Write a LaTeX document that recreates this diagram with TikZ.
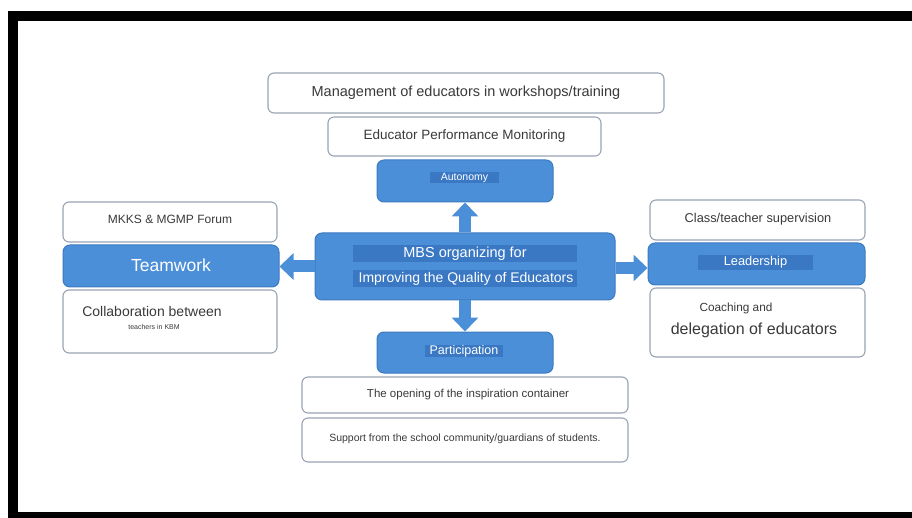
\documentclass[tikz,border=0pt]{standalone}
\usepackage{fontspec}
\setmainfont{Liberation Sans}
\usetikzlibrary{arrows.meta}
\definecolor{bluebox}{HTML}{4B8FD8}
\definecolor{blueedge}{HTML}{3D7BC0}
\definecolor{bluehl}{HTML}{3A78C4}
\definecolor{grayedge}{HTML}{9AA3B3}
\definecolor{txt}{HTML}{3A3A3A}
\newcommand{\fs}[1]{\fontsize{#1}{#1}\selectfont}
\tikzset{
  bluenode/.style={draw=blueedge, line width=1pt, fill=bluebox, rounded corners=7pt, inner sep=0pt},
  whitenode/.style={draw=grayedge, line width=1.1pt, fill=white, rounded corners=6pt, inner sep=0pt},
  hl/.style={fill=bluehl, inner sep=0pt},
  wtxt/.style={text=white, inner sep=0pt},
  gtxt/.style={text=txt, inner sep=0pt},
  bigarrow/.style={draw=bluebox, line width=12pt, -{Triangle[width=26pt,length=14pt]}},
}
\begin{document}
\begin{tikzpicture}[x=1pt, y=-1pt]
\useasboundingbox (0,0) rectangle (912,518);
\fill[white] (0,0) rectangle (912,518);
% frame
\fill[black] (8,11) rectangle (912,21);
\fill[black] (8,11) rectangle (18,518);
\fill[black] (8,512) rectangle (912,518);

% top
\node[whitenode, minimum width=396pt, minimum height=40pt] (mgmt) at (466,93) {};
\node[gtxt] (mgmtT) at (466,93) {\fs{14.5}Management of educators in workshops/training};
\node[whitenode, minimum width=273pt, minimum height=39pt] (epm) at (464.5,136.5) {};
\node[gtxt] (epmT) at (464.5,136.5) {\fs{13.5}Educator Performance Monitoring};
\node[bluenode, minimum width=176pt, minimum height=42pt] (auto) at (465,181) {};
\node[hl, minimum width=69pt, minimum height=11pt] (autoH) at (464.5,178) {};
\node[wtxt] (autoT) at (464.5,178) {\fs{10.5}Autonomy};

% centre
\node[bluenode, minimum width=300pt, minimum height=67pt] (ctr) at (465,266.5) {};
\node[hl, minimum width=224pt, minimum height=17pt] (ctrH1) at (465,253.5) {};
\node[hl, minimum width=224pt, minimum height=17pt] (ctrH2) at (465,278.5) {};
\node[wtxt] (ctrT1) at (465,253.5) {\fs{14.5}MBS organizing for};
\node[wtxt] (ctrT2) at (466,278.5) {\fs{14}Improving the Quality of Educators};

% left
\node[whitenode, minimum width=214pt, minimum height=40pt] (mkks) at (170,222) {};
\node[gtxt] (mkksT) at (170,219) {\fs{12}MKKS \& MGMP Forum};
\node[bluenode, minimum width=216pt, minimum height=42pt] (team) at (171,266) {};
\node[wtxt] (teamT) at (171,265) {\fs{17.5}Teamwork};
\node[whitenode, minimum width=214pt, minimum height=63pt] (collab) at (170,321.5) {};
\node[gtxt] (collabT1) at (152,311) {\fs{14}Collaboration between};
\node[gtxt] (collabT2) at (154,327) {\fs{7}teachers in KBM};

% right
\node[whitenode, minimum width=215pt, minimum height=40pt] (class) at (757.5,220) {};
\node[gtxt] (classT) at (758,219) {\fs{12.8}Class/teacher supervision};
\node[bluenode, minimum width=217pt, minimum height=42pt] (lead) at (756.5,264) {};
\node[hl, minimum width=115pt, minimum height=15pt] (leadH) at (755.5,262.5) {};
\node[wtxt] (leadT) at (755.5,262.5) {\fs{12.8}Leadership};
\node[whitenode, minimum width=215pt, minimum height=69pt] (coach) at (757.5,322.5) {};
\node[gtxt] (coachT1) at (736,308) {\fs{11.8}Coaching and};
\node[gtxt] (coachT2) at (754,330) {\fs{16}delegation of educators};

% bottom
\node[bluenode, minimum width=176pt, minimum height=41pt] (part) at (465,352.5) {};
\node[hl, minimum width=78pt, minimum height=12pt] (partH) at (464,351) {};
\node[wtxt] (partT) at (464,351) {\fs{12.5}Participation};
\node[whitenode, minimum width=326pt, minimum height=36pt] (open) at (465,395) {};
\node[gtxt] (openT) at (468,395) {\fs{11.5}The opening of the inspiration container};
\node[whitenode, minimum width=326pt, minimum height=44pt] (supp) at (465,440) {};
\node[gtxt] (suppT) at (465,439) {\fs{10.5}Support from the school community/guardians of students.};

% arrows
\draw[bigarrow] (ctr.north) -- (auto.south);
\draw[bigarrow] (ctr.south) -- (part.north);
\draw[bigarrow] (ctr.west) -- (ctr.west -| team.east);
\draw[bigarrow] ([yshift=-1.5pt]ctr.east) -- ([yshift=-1.5pt]ctr.east -| lead.west);
\end{tikzpicture}
\end{document}
